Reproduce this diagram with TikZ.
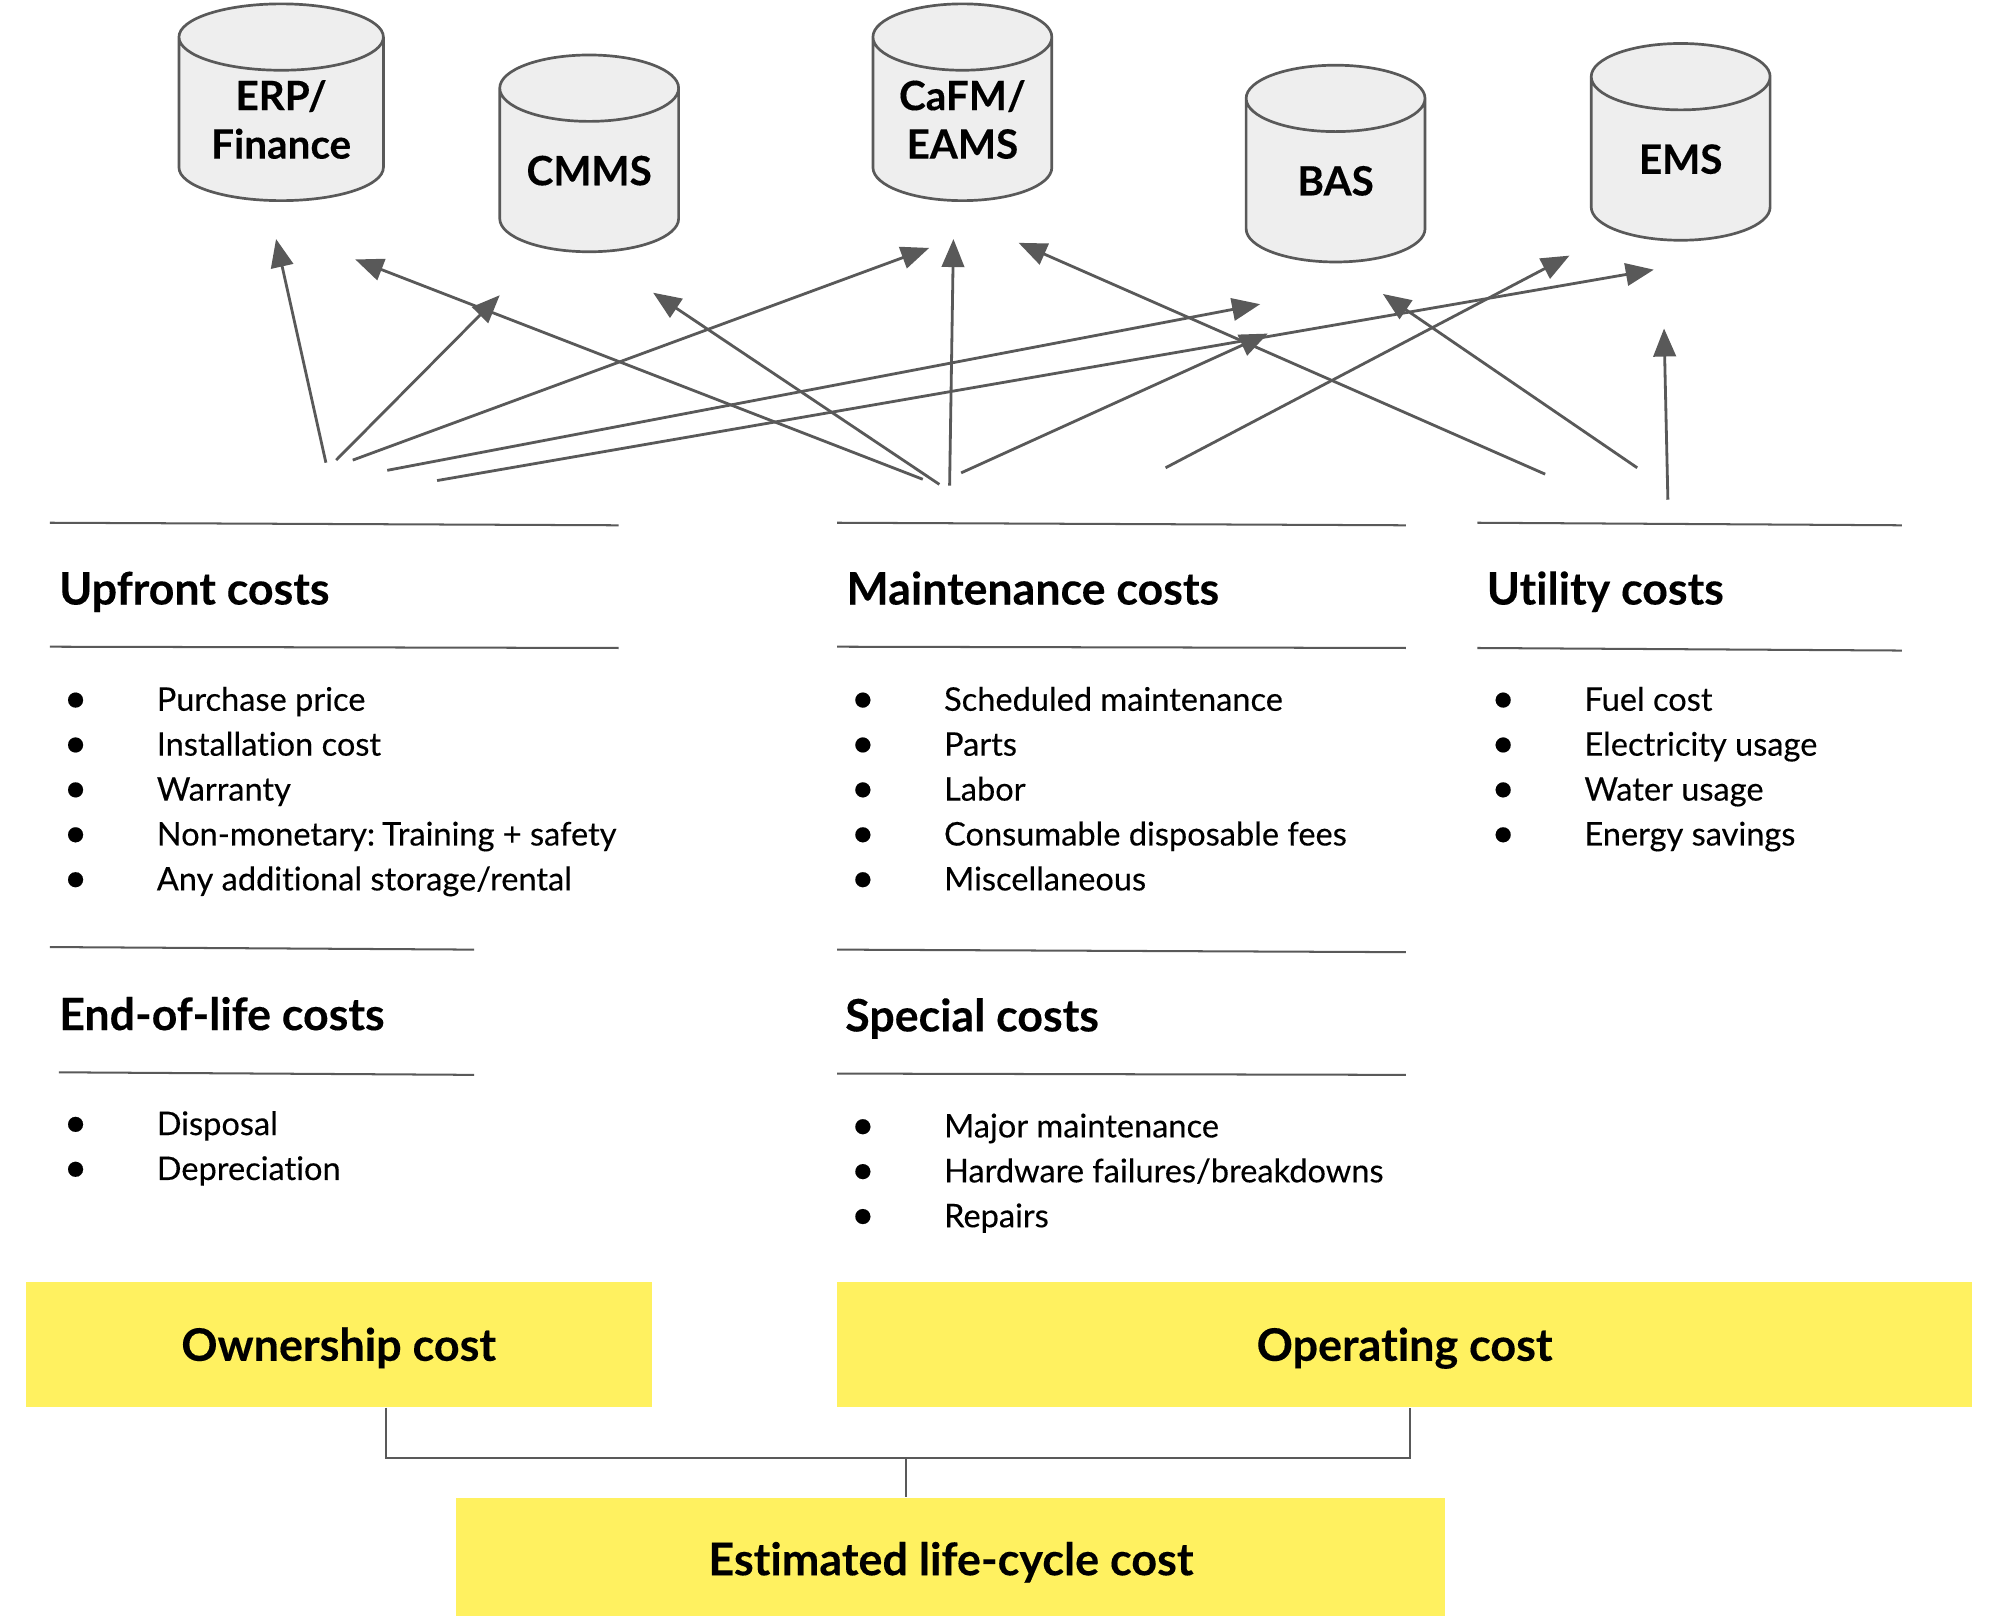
\documentclass[tikz,border=0pt]{standalone}
\usepackage{fontspec}
\setmainfont{Lato}[Ligatures=NoCommon]
\newfontfamily\costfont{Lato}[Ligatures=NoCommon, FakeBold=0.25]
\newfontfamily\headfont{Lato Bold}[Ligatures=NoCommon, FakeBold=0.25]
\usetikzlibrary{arrows.meta,shapes.geometric}
\definecolor{linegrey}{HTML}{595959}
\definecolor{storegrey}{HTML}{EEEEEE}
\definecolor{boxyellow}{HTML}{FFF160}
\newcommand{\costitem}[1]{\makebox[38.9pt][l]{\hspace{-2.5pt}\raisebox{-0.6pt}{\fontsize{18}{20}\selectfont\textbullet}}#1}
\tikzset{
  store/.style={draw=linegrey, line width=1.2pt, fill=storegrey, cylinder, shape border rotate=90, aspect=0.433, cylinder uses custom fill, cylinder body fill=storegrey, cylinder end fill=storegrey, anchor=shape center, text width=2.4cm, minimum width=2.8cm, minimum height=3.08cm, inner sep=0pt, align=center, font=\fontsize{18}{21.6}\selectfont\headfont},
  heading/.style={anchor=base west, inner sep=0pt, font=\fontsize{19.9}{24}\selectfont\headfont},
  costlist/.style={anchor=north west, inner sep=0pt, align=left, font=\fontsize{14.5}{20}\selectfont\costfont},
  costbox/.style={fill=boxyellow, inner sep=0pt, text height=19pt, text depth=4.5pt, font=\fontsize{20}{24}\selectfont\headfont},
  link/.style={draw=linegrey, line width=1.25pt, ->},
  rule/.style={draw=linegrey, line width=0.9pt},
  joint/.style={draw=linegrey, line width=1pt}
}
\begin{document}
\begin{tikzpicture}[x=0.02cm, y=-0.02cm, >={Triangle[length=12.5pt, width=10pt]}]
\useasboundingbox (0,0) rectangle (1568,1264.4);

\node[store, minimum width=3.2cm] (erp) at (220,80) {ERP/\\Finance};
\node[store] (cmms) at (461,120) {CMMS};
\node[store] (cafm) at (753,80) {CaFM/\\EAMS};
\node[store] (bas) at (1045,128) {BAS};
\node[store] (ems) at (1315,111) {EMS};

\coordinate (up1) at (255,362);
\coordinate (up2) at (263,360);
\coordinate (up3) at (276,360);
\coordinate (up4) at (303,368);
\coordinate (up5) at (342,376);
\coordinate (mt1) at (722,375);
\coordinate (mt2) at (735,379);
\coordinate (mt3) at (743,380);
\coordinate (mt4) at (752,370);
\coordinate (mt5) at (912,366);
\coordinate (ut1) at (1209,371);
\coordinate (ut2) at (1281,366);
\coordinate (ut3) at (1305,391);

\coordinate (toerp1) at (216,187);
\coordinate (toerp2) at (278,203);
\coordinate (tocmms1) at (391,231);
\coordinate (tocmms2) at (511,229);
\coordinate (tocafm1) at (727,194);
\coordinate (tocafm2) at (746,187);
\coordinate (tocafm3) at (797,190);
\coordinate (tobas1) at (986,238);
\coordinate (tobas2) at (992,261);
\coordinate (tobas3) at (1082,230);
\coordinate (toems1) at (1294,211);
\coordinate (toems2) at (1228,200);
\coordinate (toems3) at (1302,257);

\path[link] (up1) -- (toerp1);
\path[link] (up2) -- (tocmms1);
\path[link] (up3) -- (tocafm1);
\path[link] (up4) -- (tobas1);
\path[link] (up5) -- (toems1);
\path[link] (mt1) -- (toerp2);
\path[link] (mt2) -- (tocmms2);
\path[link] (mt3) -- (tocafm2);
\path[link] (mt4) -- (tobas2);
\path[link] (mt5) -- (toems2);
\path[link] (ut1) -- (tocafm3);
\path[link] (ut2) -- (tobas3);
\path[link] (ut3) -- (toems3);

\path[rule] (39,409) -- (484,411);
\path[rule] (39,506) -- (484,507);
\path[rule] (655,409) -- (1100,411);
\path[rule] (655,506) -- (1100,507);
\path[rule] (1156,409) -- (1488,411);
\path[rule] (1156,507) -- (1488,509);
\path[rule] (39,741) -- (371,743);
\path[rule] (46,839) -- (371,841);
\path[rule] (655,743) -- (1100,745);
\path[rule] (655,840) -- (1100,841);

\node[heading] (upfront) at (46,473) {Upfront costs};
\node[heading] (maint) at (662,473) {Maintenance costs};
\node[heading] (utility) at (1163,473) {Utility costs};
\node[heading] (endlife) at (46,806) {End-of-life costs};
\node[heading] (special) at (661,807) {Special costs};

\node[costlist] (upfrontlist) at (54,537) {\costitem{Purchase price}\\\costitem{Installation cost}\\\costitem{Warranty}\\\costitem{Non-monetary:\hspace{-1.8pt} Training + safety}\\\costitem{Any additional storage/rental}};
\node[costlist] (maintlist) at (670,537) {\costitem{Scheduled maintenance}\\\costitem{Parts}\\\costitem{Labor}\\\costitem{Consumable disposable fees}\\\costitem{Miscellaneous}};
\node[costlist] (utilitylist) at (1171,537) {\costitem{Fuel cost}\\\costitem{Electricity usage}\\\costitem{Water usage}\\\costitem{Energy savings}};
\node[costlist] (endlifelist) at (54,869) {\costitem{Disposal}\\\costitem{Depreciation}};
\node[costlist] (speciallist) at (670,871) {\costitem{Major maintenance}\\\costitem{Hardware failures/breakdowns}\\\costitem{Repairs}};

\node[costbox, minimum width=9.8cm, minimum height=1.96cm] (owner) at (265,1052) {Ownership cost};
\node[costbox, minimum width=17.76cm, minimum height=1.96cm] (oper) at (1099,1052) {Operating cost};
\node[costbox, minimum width=15.48cm, minimum height=1.85cm, text height=21pt] (total) at (744,1218) {Estimated life-cycle cost};

\coordinate (jointa) at (302,1141);
\coordinate (jointb) at (1103,1141);
\coordinate (jointc) at (709,1141);
\path[joint] (owner.south -| jointa) -- (jointa) -- (jointb) -- (oper.south -| jointb);
\path[joint] (jointc) -- (total.north -| jointc);
\end{tikzpicture}
\end{document}
